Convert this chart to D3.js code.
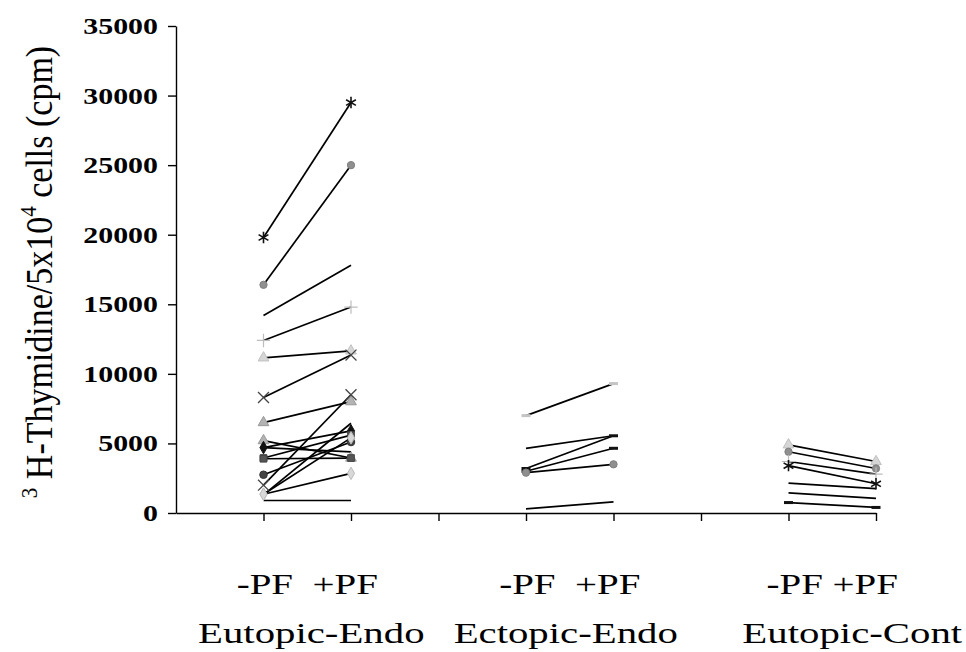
<!DOCTYPE html>
<html>
<head>
<meta charset="utf-8">
<script src="https://cdn.jsdelivr.net/npm/d3@7"></script>
<style>
  body { margin: 0; background: #fff; }
  svg { display: block; font-family: "Liberation Serif", "Times New Roman", serif; }
</style>
</head>
<body>
<div class="chart-holder"></div>
<script>
// values (cpm), one line per sample: -PF -> +PF
var groups = ["Eutopic-Endo", "Ectopic-Endo", "Eutopic-Cont"];
var conditions = ["-PF", "+PF"];
var yTicks = [0, 5000, 10000, 15000, 20000, 25000, 30000, 35000];

var eutopicEndoMinus = [19800, 16400, 14200, 12400, 11150, 8300, 6500, 2000, 1300, 5200, 4700, 4700, 3950, 3900, 2750, 1350, 1350, 900];
var eutopicEndoPlus  = [29500, 25000, 17800, 14800, 11650, 11350, 8000, 8500, 6450, 3950, 5900, 4400, 5600, 3950, 5100, 5400, 2850, 900];
var eutopicEndoMarks = ["asterisk", "circle", "none", "plus", "triangleLight", "times", "triangle", "times", "none", "triangle", "diamond", "none", "square", "square", "circleDark", "diamondLight", "diamondLight", "none"];

var ectopicEndoMinus = [7000, 4650, 3200, 3000, 2900, 300];
var ectopicEndoPlus  = [9300, 5550, 5550, 4650, 3500, 800];
var ectopicEndoMarks = ["dashLight", "none", "dash", "dash", "circle", "none"];

var eutopicContMinus = [4900, 4400, 3700, 3400, 2150, 1450, 750];
var eutopicContPlus  = [3700, 3200, 2800, 2100, 1750, 1050, 400];
var eutopicContMarks = ["triangleLight", "circle", "plus", "asterisk", "none", "none", "dash"];

var seriesMinus = [eutopicEndoMinus, ectopicEndoMinus, eutopicContMinus];
var seriesPlus  = [eutopicEndoPlus, ectopicEndoPlus, eutopicContPlus];
var seriesMarks = [eutopicEndoMarks, ectopicEndoMarks, eutopicContMarks];

var width = 966, height = 652;
var margin = {top: 26, left: 176, right: 90, bottom: 139};
var stretch = 1.3; // the scanned figure is a bit wider than tall

var svg = d3.select(".chart-holder")
    .append("svg")
    .attr("width", width)
    .attr("height", height);

// category slots: 0 = axis, two slots per group with one empty slot between
var slots = [[1, 2], [4, 5], [7, 8]];
var x = d3.scaleLinear().domain([0, 8]).range([margin.left, width - margin.right]);
var y = d3.scaleLinear().domain([0, 35000]).range([height - margin.bottom, margin.top]);

// axes
svg.append("g")
    .attr("transform", "translate(" + margin.left + ",0)")
    .call(d3.axisLeft(y).tickValues(yTicks).tickSize(8).tickSizeOuter(0).tickFormat(""));
svg.append("g")
    .attr("transform", "translate(0," + y(0) + ")")
    .call(d3.axisBottom(x).tickValues(d3.range(1, 9)).tickSize(8).tickSizeOuter(0).tickFormat(""));
svg.selectAll(".domain").attr("stroke", "#000").attr("stroke-width", 1.4);
svg.selectAll(".tick line").attr("stroke", "#000").attr("stroke-width", 1.4);

// y tick labels (bold, stretched like the original)
svg.append("g").selectAll("text")
    .data(yTicks)
  .enter().append("text")
    .attr("transform", function(d) { return "translate(158," + y(d) + ") scale(" + stretch + ",1)"; })
    .attr("text-anchor", "end")
    .attr("dy", "0.35em")
    .style("font-weight", 700)
    .style("font-size", "23px")
    .text(function(d) { return d; });

// y axis title
var ytitle = svg.append("text")
    .attr("transform", "translate(52,272) scale(1.12,1) rotate(-90)")
    .attr("text-anchor", "middle")
    .style("font-size", "34px");
ytitle.append("tspan").style("font-size", "21px").attr("dy", "-13").text("3");
ytitle.append("tspan").attr("dy", "13").text(" H-Thymidine/5x10");
ytitle.append("tspan").style("font-size", "21px").attr("dy", "-14").text("4");
ytitle.append("tspan").attr("dy", "14").text(" cells (cpm)");

// marker styles
var dashShape = { draw: function(ctx, size) { ctx.rect(-4.5, -1.5, 9, 3); } };
var markerStyle = {
  asterisk:      {type: d3.symbolAsterisk, size: 90, fill: "none", stroke: "#111", sw: 1.6},
  circle:        {type: d3.symbolCircle, size: 42, fill: "#8f8f8f", stroke: "#808080", sw: 1},
  circleDark:    {type: d3.symbolCircle, size: 45, fill: "#444", stroke: "#333", sw: 1},
  plus:          {type: d3.symbolPlus, size: 60, fill: "none", stroke: "#bdbdbd", sw: 1.2},
  triangle:      {type: d3.symbolTriangle, size: 50, fill: "#b3b3b3", stroke: "#999", sw: 1},
  triangleLight: {type: d3.symbolTriangle, size: 50, fill: "#d6d6d6", stroke: "#c0c0c0", sw: 1},
  times:         {type: d3.symbolTimes, size: 80, fill: "none", stroke: "#444", sw: 1.3},
  diamond:       {type: d3.symbolDiamond, size: 45, fill: "#111", stroke: "#111", sw: 1},
  diamondLight:  {type: d3.symbolDiamond, size: 45, fill: "#d8d8d8", stroke: "#bbb", sw: 1},
  square:        {type: d3.symbolSquare, size: 45, fill: "#555", stroke: "#444", sw: 1},
  dash:          {type: dashShape, size: 1, fill: "#111", stroke: "none", sw: 0},
  dashLight:     {type: dashShape, size: 1, fill: "#c4c4c4", stroke: "none", sw: 0}
};

// build the lines
var rows = [];
seriesMinus.forEach(function(pre, g) {
  pre.forEach(function(v, i) {
    rows.push({
      pts: [[slots[g][0], v], [slots[g][1], seriesPlus[g][i]]],
      mark: seriesMarks[g][i]
    });
  });
});

var line = d3.line()
    .x(function(p) { return x(p[0]); })
    .y(function(p) { return y(p[1]); });

svg.append("g").selectAll("path")
    .data(rows)
  .enter().append("path")
    .attr("d", function(d) { return line(d.pts); })
    .attr("fill", "none")
    .attr("stroke", "#000")
    .attr("stroke-width", 1.7);

var pts = [];
rows.forEach(function(r) {
  if (r.mark === "none") return;
  r.pts.forEach(function(p) { pts.push({p: p, mark: r.mark}); });
});

svg.append("g").selectAll("path")
    .data(pts)
  .enter().append("path")
    .attr("transform", function(d) { return "translate(" + x(d.p[0]) + "," + y(d.p[1]) + ")"; })
    .attr("d", function(d) { var s = markerStyle[d.mark]; return d3.symbol(s.type, s.size)(); })
    .attr("fill", function(d) { return markerStyle[d.mark].fill; })
    .attr("stroke", function(d) { return markerStyle[d.mark].stroke; })
    .attr("stroke-width", function(d) { return markerStyle[d.mark].sw; });

// category labels under the axis: "-PF  +PF" per group, then the group name
var condGap = ["  ", "  ", " "];
var nameShift = [4, -4, 20];

svg.append("g").selectAll("text")
    .data(groups)
  .enter().append("text")
    .attr("transform", function(d, i) {
      var cx = (x(slots[i][0]) + x(slots[i][1])) / 2;
      return "translate(" + cx + ",594) scale(" + stretch + ",1)";
    })
    .attr("text-anchor", "middle")
    .style("white-space", "pre")
    .style("font-size", "30px")
    .text(function(d, i) { return conditions.join(condGap[i]); });

svg.append("g").selectAll("text")
    .data(groups)
  .enter().append("text")
    .attr("transform", function(d, i) {
      var cx = (x(slots[i][0]) + x(slots[i][1])) / 2 + nameShift[i];
      return "translate(" + cx + ",643) scale(1.36,1)";
    })
    .attr("text-anchor", "middle")
    .style("font-size", "30px")
    .text(function(d) { return d; });
</script>
</body>
</html>
